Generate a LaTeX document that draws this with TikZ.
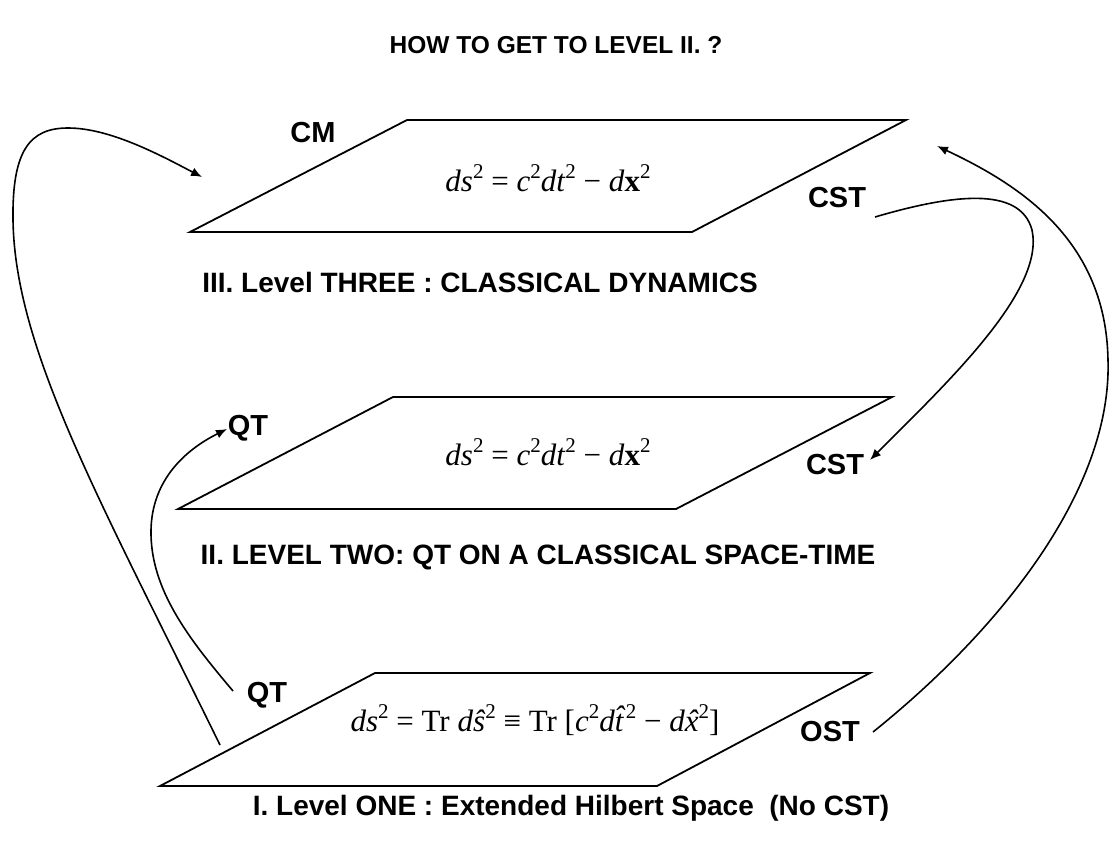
\documentclass[tikz,border=0pt]{standalone}
\usepackage{fontspec}
\setmainfont{Liberation Sans}
\newfontfamily\fserif{Liberation Serif}
\usetikzlibrary{arrows.meta}
\newcommand\supt[1]{\raisebox{0.42em}{\fontsize{21}{21}\selectfont #1}}
\newcommand\iv[1]{\textit{#1}}
\newcommand\hatc[3]{\ooalign{#1\cr\hfil\kern#3\raisebox{#2}{\makebox[0pt]{ˆ}}\hfil\cr}}
\begin{document}
\begin{tikzpicture}[x=1pt,y=-1pt, line join=miter,
 plane/.style={line width=1.8pt},
 curve/.style={line width=1.6pt},
 arr/.style={curve,-{Latex[length=11pt,width=9pt]}},
 lbl/.style={font=\fontsize{29}{31}\selectfont\bfseries, inner sep=0pt},
 ttl/.style={font=\fontsize{28}{30}\selectfont\bfseries, inner sep=0pt},
 frm/.style={font=\fserif\fontsize{31}{33}\selectfont, inner sep=0pt}]
\useasboundingbox (0,0) rectangle (1112,844);

% planes
\draw[plane] (407,120) coordinate (p3a) -- (906,120) coordinate (p3b) -- (692,232) coordinate (p3c) -- (190,232) coordinate (p3d) -- cycle;
\draw[plane] (393,397) coordinate (p2a) -- (892,397) coordinate (p2b) -- (676,509) coordinate (p2c) -- (178,509) coordinate (p2d) -- cycle;
\draw[plane] (375,673) coordinate (p1a) -- (870,673) coordinate (p1b) -- (657,786) coordinate (p1c) -- (160,786) coordinate (p1d) -- cycle;

% texts
\node[ttl, font=\fontsize{24.5}{27}\selectfont\bfseries] (title) at (556,45) {HOW TO GET TO LEVEL II. ?};
\node[lbl] (cm) at (313,133) {CM};
\node[frm] (f3) at (548,178) {\iv{ds}\supt{2} = \iv{c}\supt{2}\iv{dt}\supt{2} − \iv{d}\textbf{x}\supt{2}};
\node[lbl] (cst3) at (837,198) {CST};
\node[ttl] (t3) at (480,282) {III. Level THREE : CLASSICAL DYNAMICS};
\node[lbl] (qt2) at (248,428) {QT};
\node[frm] (f2) at (548,452) {\iv{ds}\supt{2} = \iv{c}\supt{2}\iv{dt}\supt{2} − \iv{d}\textbf{x}\supt{2}};
\node[lbl] (cst2) at (835,465) {CST};
\node[ttl] (t2) at (538,557) {II. LEVEL TWO: QT ON A CLASSICAL SPACE-TIME};
\node[lbl] (qt1) at (267,695) {QT};
\node[frm] (f1) at (535,720) {\iv{ds}\supt{2} = Tr \iv{dŝ}\supt{2} ≡ Tr [\iv{c}\supt{2}\iv{d\hatc{t}{0.14em}{0em}}\kern0.08em\supt{2} − \iv{d\hatc{x}{0em}{0.04em}}\supt{2}]};
\node[lbl] (ost) at (830,732) {OST};
\node[ttl] (t1) at (571,808) {I. Level ONE : Extended Hilbert Space\ \ (No CST)};

% curve ends
\coordinate (a0) at (220,745);
\coordinate (a1) at (202,177);
\coordinate (b0) at (873,732);
\coordinate (b1) at (937,146);
\coordinate (c0) at (875,217);
\coordinate (c1) at (870,460);
\coordinate (d0) at (233,691);
\coordinate (d1) at (227,429);

% connectors
\draw[arr] (a0) .. controls (100,500) and (15,350) .. (13,220)
  .. controls (12,150) and (30,128) .. (68,128)
  .. controls (110,128) and (160,155) .. (a1);
\draw[arr] (b0) .. controls (1000,630) and (1112,490) .. (1108,360)
  .. controls (1106,240) and (1020,185) .. (b1);
\draw[arr] (c0) .. controls (950,195) and (1020,185) .. (1032,230)
  .. controls (1045,290) and (950,380) .. (c1);
\draw[arr] (d0) .. controls (190,640) and (150,590) .. (151,530)
  .. controls (152,480) and (185,450) .. (d1);
\end{tikzpicture}
\end{document}
